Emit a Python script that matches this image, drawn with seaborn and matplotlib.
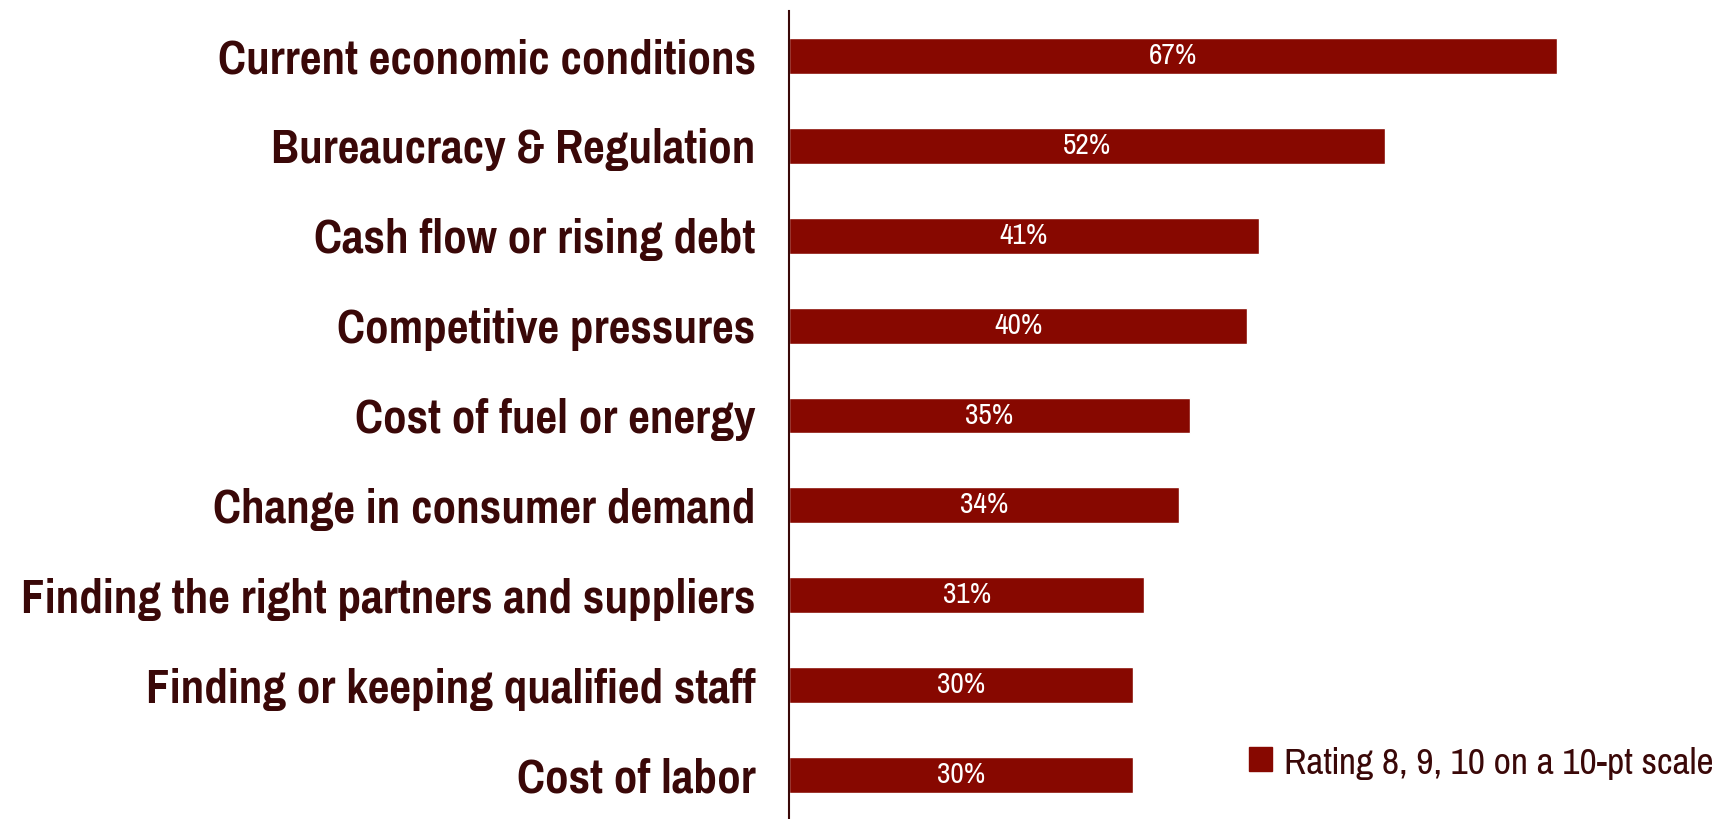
import matplotlib
matplotlib.use("Agg")
import matplotlib.pyplot as plt
import seaborn as sns
import pandas as pd
import numpy as np

categories = [
    "Current economic conditions",
    "Bureaucracy & Regulation",
    "Cash flow or rising debt",
    "Competitive pressures",
    "Cost of fuel or energy",
    "Change in consumer demand",
    "Finding the right partners and suppliers",
    "Finding or keeping qualified staff",
    "Cost of labor",
]
values = [67, 52, 41, 40, 35, 34, 31, 30, 30]
series_name = "Rating 8, 9, 10 on a 10-pt scale"

bar_color = "#870800"
text_color = "#3a0808"

sns.set_theme(style="white")
plt.rcParams["font.family"] = ["Pragati Narrow", "DejaVu Sans"]

df = pd.DataFrame({"category": categories, "value": values, "series": series_name})

W, H = 1726, 819
fig = plt.figure(figsize=(W / 100, H / 100), dpi=100)
left_px, right_px, top_px, bottom_px = 789, 1726, 11, 820
ax = fig.add_axes([left_px / W, 1 - bottom_px / H,
                   (right_px - left_px) / W, (bottom_px - top_px) / H])

sns.barplot(data=df, y="category", x="value", hue="series", orient="h",
            palette=[bar_color], width=0.4, ax=ax, legend=False, saturation=1)

ax.set_xlim(0, (right_px - left_px) / 11.46)
ax.set_ylim(len(categories) - 0.5, -0.5)
ax.set_xlabel("")
ax.set_ylabel("")
ax.set_xticks([])

for s in ["top", "right", "bottom"]:
    ax.spines[s].set_visible(False)
ax.spines["left"].set_color(text_color)
ax.spines["left"].set_linewidth(1.5)

ax.set_yticks(range(len(categories)))
ax.set_yticklabels(categories, fontsize=37, fontweight="bold", color=text_color)
ax.tick_params(axis="y", which="major", length=0, pad=24)
ax.set_yticks(np.arange(-0.5, len(categories), 1), minor=True)
ax.tick_params(axis="y", which="minor", length=12, width=1.5, color=text_color)

for i, v in enumerate(values):
    ax.text(v / 2, i, f"{v}%", ha="center", va="center", color="white", fontsize=23)

handle = plt.Rectangle((0, 0), 1, 1, color=bar_color)
fig.legend([handle], [series_name], loc="center left",
           bbox_to_anchor=(1249 / W, 1 - 763 / H), frameon=False,
           fontsize=29.5, labelcolor=text_color, handlelength=0.55, handleheight=0.55,
           handletextpad=0.3, borderaxespad=0, borderpad=0)

fig.savefig("out.png", dpi=100)
